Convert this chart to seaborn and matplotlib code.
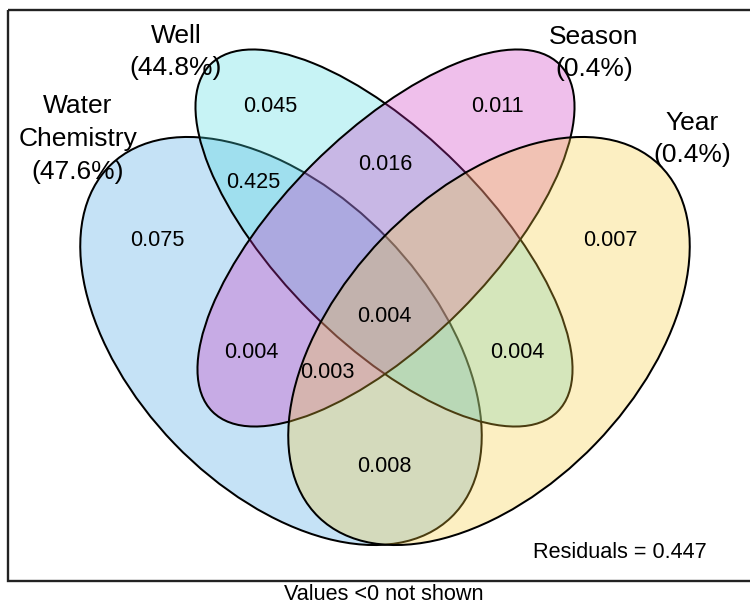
import matplotlib
matplotlib.use("Agg")
import matplotlib.pyplot as plt
from matplotlib.patches import Ellipse, Rectangle
import seaborn as sns

# Explanatory sets, their adjusted R2 shares and fill colours
set_labels = ["Water\nChemistry", "Well", "Season", "Year"]
set_pct = [47.6, 44.8, 0.4, 0.4]
set_colors = ["#41a2e4", "#48dade", "#cd2dc0", "#f8ca37"]

# Fractions of variation for each shown region of the diagram
region_values = [0.075, 0.045, 0.011, 0.007, 0.425, 0.016,
                 0.004, 0.004, 0.003, 0.004, 0.008]
residuals = 0.447
footnote = "Values <0 not shown"

# Geometry of the diagram, in figure pixel units
ell_center = [(281, 341), (384, 238), (386, 238), (489, 341)]
ell_axes = [(490, 296), (491, 208), (491, 208), (490, 296)]
ell_angle = [46, 45, -45, -46]
label_xy = [(78, 139), (176, 52), (594, 53), (692, 139)]
region_xy = [(157, 240), (270, 107), (497, 107), (610, 240), (253, 182),
             (385, 165), (384, 316), (251, 353), (327, 373), (517, 353),
             (384, 466)]

sns.set_theme(style="white")
plt.rcParams["font.family"] = ["Liberation Sans", "DejaVu Sans"]

W, H = 750, 604
fig = plt.figure(figsize=(W / 100, H / 100), dpi=100)
ax = fig.add_axes([0, 0, 1, 1])
ax.set_xlim(0, W)
ax.set_ylim(H, 0)
ax.axis("off")

palette = sns.color_palette(set_colors)
for (cx, cy), (w, h), ang, col in zip(ell_center, ell_axes, ell_angle, palette):
    ax.add_patch(Ellipse((cx, cy), w, h, angle=ang,
                         facecolor=(*col, 0.3), edgecolor="black",
                         linewidth=1.45))

ax.add_patch(Rectangle((8, 10), 760, 571, fill=False, edgecolor="#222222",
                       linewidth=1.7))

for name, pct, (x, y) in zip(set_labels, set_pct, label_xy):
    ax.text(x, y, f"{name}\n({pct}%)", ha="center", va="center",
            fontsize=19, linespacing=1.47, color="black")

for v, (x, y) in zip(region_values, region_xy):
    ax.text(x, y, f"{v:.3f}", ha="center", va="center", fontsize=15.6,
            color="black")

ax.text(620, 552, f"Residuals = {residuals}", ha="center", va="center",
        fontsize=15.6, color="black")
ax.text(384, 594, footnote, ha="center", va="center", fontsize=15.6,
        color="black")

fig.savefig("out.png", dpi=100)
